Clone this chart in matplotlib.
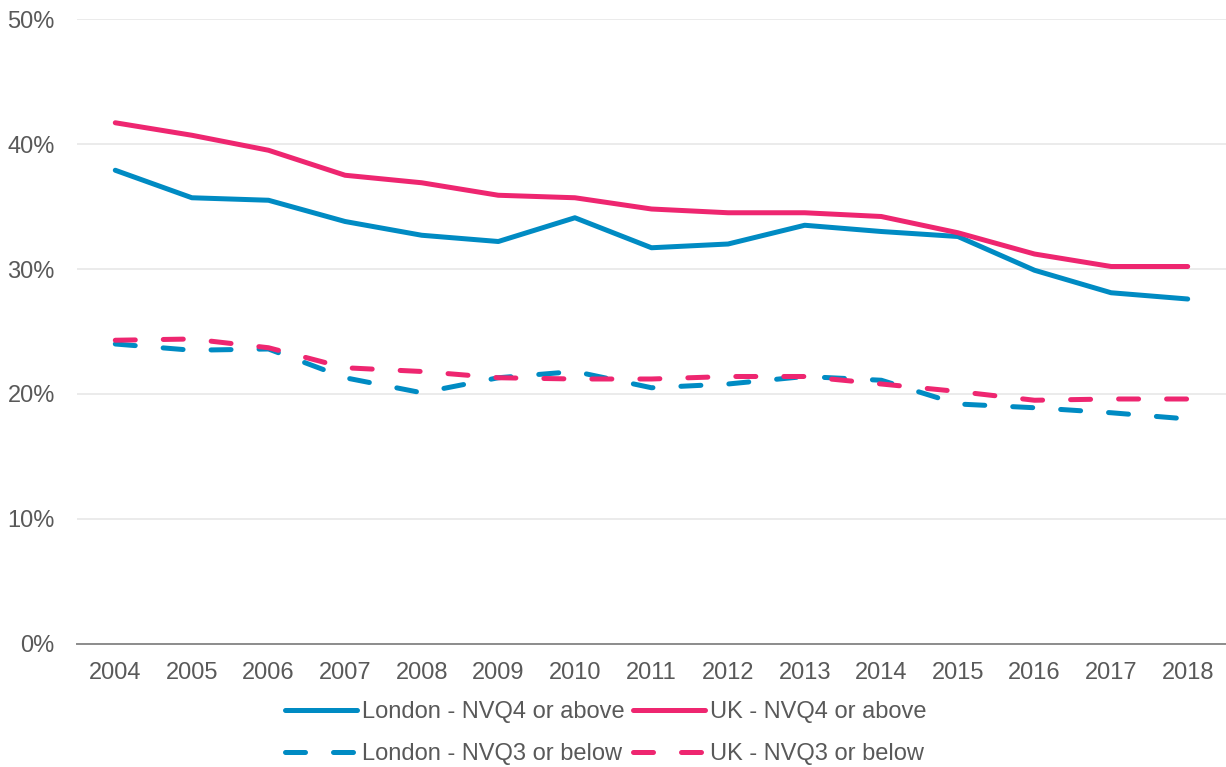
import matplotlib
matplotlib.use("Agg")
import matplotlib.pyplot as plt
from matplotlib.ticker import PercentFormatter

plt.rcParams['font.family'] = ['Liberation Sans', 'DejaVu Sans']

years = [str(y) for y in range(2004, 2019)]
london_nvq4 = [37.9, 35.7, 35.5, 33.8, 32.7, 32.2, 34.1, 31.7, 32.0, 33.5, 33.0, 32.6, 29.9, 28.1, 27.6]
uk_nvq4 = [41.7, 40.7, 39.5, 37.5, 36.9, 35.9, 35.7, 34.8, 34.5, 34.5, 34.2, 32.9, 31.2, 30.2, 30.2]
london_nvq3 = [24.0, 23.5, 23.6, 21.3, 20.1, 21.3, 21.8, 20.5, 20.8, 21.4, 21.1, 19.2, 18.9, 18.5, 18.0]
uk_nvq3 = [24.3, 24.4, 23.7, 22.1, 21.8, 21.3, 21.2, 21.2, 21.4, 21.4, 20.8, 20.2, 19.5, 19.6, 19.6]

blue = '#008BC3'
pink = '#EE2670'
grey = '#595959'

fig = plt.figure(figsize=(12.26, 7.67), dpi=100)
ax = fig.add_axes([0.0628, 0.1604, 0.9372, 0.8148])

x = list(range(len(years)))
lw = 3.6
dash = (4.0, 5.6)
l1, = ax.plot(x, london_nvq4, color=blue, lw=lw, solid_capstyle='round', label='London - NVQ4 or above', zorder=3)
l2, = ax.plot(x, uk_nvq4, color=pink, lw=lw, solid_capstyle='round', label='UK - NVQ4 or above', zorder=3)
l3, = ax.plot(x, london_nvq3, color=blue, lw=lw, dashes=dash, dash_capstyle='round', label='London - NVQ3 or below', zorder=3)
l4, = ax.plot(x, uk_nvq3, color=pink, lw=lw, dashes=dash, dash_capstyle='round', label='UK - NVQ3 or below', zorder=3)

ax.set_xlim(-0.5, len(years) - 0.5)
ax.set_ylim(0, 50)
ax.set_yticks([0, 10, 20, 30, 40, 50])
ax.yaxis.set_major_formatter(PercentFormatter(decimals=0))
ax.set_xticks(x)
ax.set_xticklabels(years)

ax.grid(axis='y', color='#EBEBEB', lw=1.4, zorder=0)
ax.set_axisbelow(True)
for s in ['top', 'right', 'left']:
    ax.spines[s].set_visible(False)
ax.spines['bottom'].set_color('#8C8C8C')
ax.spines['bottom'].set_linewidth(1.4)
ax.spines['bottom'].set_zorder(1)

ax.tick_params(axis='both', length=0, labelsize=17, labelcolor=grey)
ax.tick_params(axis='y', pad=16)
ax.tick_params(axis='x', pad=13)

leg = fig.legend([l1, l3, l2, l4],
                 [l1.get_label(), l3.get_label(), l2.get_label(), l4.get_label()],
                 loc='center', bbox_to_anchor=(0.494, 0.0445), ncol=2, frameon=False,
                 fontsize=17, handlelength=3.05, handletextpad=0.2, columnspacing=0.38,
                 labelspacing=0.85, borderpad=0.0)
for t in leg.get_texts():
    t.set_color(grey)

fig.savefig('out.png', dpi=100)
